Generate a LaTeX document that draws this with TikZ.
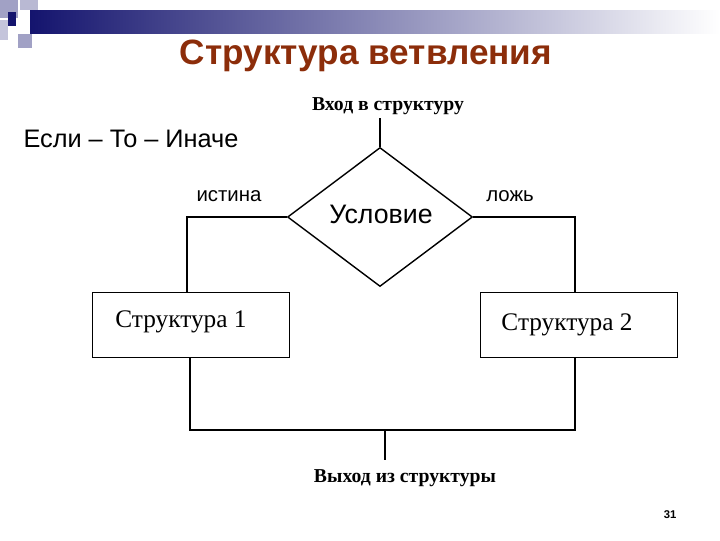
\documentclass[tikz,border=0pt]{standalone}
\usepackage{fontspec}
\setmainfont{Liberation Serif}
\setsansfont{Liberation Sans}
\usetikzlibrary{shapes.geometric}
\definecolor{navy}{RGB}{20,20,110}
\definecolor{titlec}{RGB}{140,45,10}
\begin{document}
\begin{tikzpicture}[x=0.025cm,y=-0.025cm,
  ln/.style={line width=1pt},
  bx/.style={draw,line width=1pt,minimum width=197*0.025cm,minimum height=65*0.025cm}]
\useasboundingbox (0,0) rectangle (720,540);
\shade[left color=navy,right color=white] (30,10) rectangle (720,33);
\fill[navy!40] (0,0) rectangle (18,18);
\fill[navy!30] (20,0) rectangle (38,10);
\fill[navy] (8,12) rectangle (16,26);
\fill[navy!40] (18,34) rectangle (32,48);
\fill[navy!25] (0,20) rectangle (8,40);
\node[font=\sffamily\bfseries\fontsize{25}{29}\selectfont,text=titlec] (title) at (366,56) {Структура ветвления};
\node[font=\sffamily\fontsize{18}{21}\selectfont] (ifs) at (131,139) {Если – То – Иначе};
\node[font=\bfseries\fontsize{14}{16}\selectfont] (in) at (388,106) {Вход в структуру};
\node[draw,ln,diamond,minimum width=185*0.025cm,minimum height=139*0.025cm,inner sep=0] (c) at (380,217) {};
\node[font=\sffamily\fontsize{19}{22}\selectfont] (ct) at (381,214) {Условие};
\node[font=\sffamily\fontsize{14.5}{17}\selectfont] (t) at (229,196) {истина};
\node[font=\sffamily\fontsize{14.5}{17}\selectfont] (f) at (510,196) {ложь};
\node[bx] (b1) at (191,325) {};
\node[font=\fontsize{18}{21}\selectfont] (b1t) at (181,322) {Структура 1};
\node[bx] (b2) at (579,325) {};
\node[font=\fontsize{18}{21}\selectfont] (b2t) at (567,325) {Структура 2};
\coordinate (top) at (380,118);
\coordinate (m) at (385,430);
\coordinate (bot) at (385,460);
\draw[ln] (top) -- (c.north);
\draw[ln] (c.west) -- (187,217) -- (187,293);
\draw[ln] (c.east) -- (575,217) -- (575,293);
\draw[ln] (190,358) -- (190,430) -- (575,430) -- (575,358);
\draw[ln] (m) -- (bot);
\node[font=\bfseries\fontsize{14}{16}\selectfont] (out) at (405,478) {Выход из структуры};
\node[font=\sffamily\bfseries\fontsize{8}{10}\selectfont] (pg) at (670,515) {31};
\end{tikzpicture}
\end{document}
